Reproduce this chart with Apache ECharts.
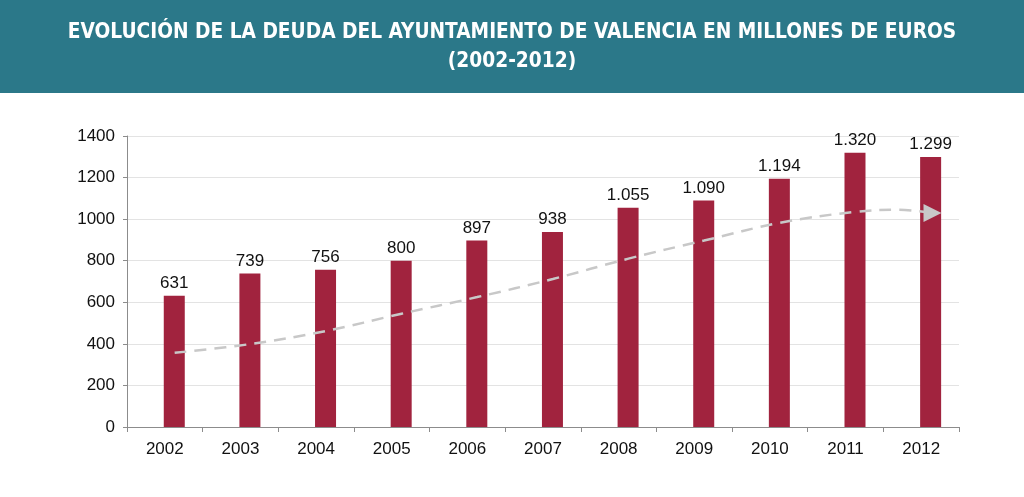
<!DOCTYPE html>
<html>
<head>
<meta charset="utf-8">
<script src="https://cdn.jsdelivr.net/npm/echarts@6/dist/echarts.min.js"></script>
<style>
html,body{margin:0;padding:0;background:#fff;}
#band{position:absolute;left:0;top:0;width:1024px;height:93px;background:#2b7889;}
#chart{position:absolute;left:0;top:0;width:1024px;height:497px;}
</style>
</head>
<body>
<div id="band"></div>
<div id="chart"></div>
<script>
var titleLine1 = 'EVOLUCIÓN DE LA DEUDA DEL AYUNTAMIENTO DE VALENCIA EN MILLONES DE EUROS';
var titleLine2 = '(2002-2012)';
var years = ['2002','2003','2004','2005','2006','2007','2008','2009','2010','2011','2012'];
var deuda = [631, 739, 756, 800, 897, 938, 1055, 1090, 1194, 1320, 1299];
var yTicks = [0, 200, 400, 600, 800, 1000, 1200, 1400];
// dashed trend curve: [position along category axis, value]
var trendX = [0.13, 1.13, 2.13, 3.13, 4.13, 5.13, 6.13, 7.13, 8.13, 9.13, 9.7, 10.15];
var trendY = [357, 399, 462, 545, 625, 712, 810, 897, 982, 1035, 1045, 1030];

function fmt(v){
  var s = String(v);
  return s.length > 3 ? s.slice(0, s.length-3) + '.' + s.slice(s.length-3) : s;
}

var trendData = trendX.map(function(x, i){
  var d = {value: [x, trendY[i]]};
  if (i === trendX.length - 1) {
    d.symbol = 'triangle'; d.symbolSize = [18, 18]; d.symbolRotate = -90;
    d.itemStyle = {color: '#c8c8c8'};
  }
  return d;
});

var chart = echarts.init(document.getElementById('chart'), null, {renderer: 'canvas'});
chart.setOption({
  animation: false,
  backgroundColor: 'transparent',
  title: {
    text: titleLine1 + '\n' + titleLine2,
    left: 'center', top: 13,
    textStyle: {color: '#ffffff', fontFamily: 'Liberation Sans Narrow, DejaVu Sans Condensed, sans-serif',
      fontWeight: 'bold', fontSize: 20.7, lineHeight: 29}
  },
  grid: {left: 127, right: 65, top: 136, bottom: 70},
  xAxis: [{
    type: 'category', data: years, boundaryGap: true,
    axisLine: {lineStyle: {color: '#8c8c8c', width: 1}},
    axisTick: {show: true, length: 5, lineStyle: {color: '#8c8c8c'}},
    axisLabel: {color: '#111', fontSize: 17, fontFamily: 'Liberation Sans, Arial, sans-serif', margin: 14}
  }, {
    type: 'value', min: -0.5, max: 10.5, show: false
  }],
  yAxis: {
    type: 'value', min: 0, max: 1400, interval: 200,
    axisLine: {show: true, onZero: false, lineStyle: {color: '#8c8c8c', width: 1}},
    axisTick: {show: true, length: 4, lineStyle: {color: '#8c8c8c'}},
    splitLine: {lineStyle: {color: '#e3e3e3', width: 1}},
    axisLabel: {color: '#111', fontSize: 17, fontFamily: 'Liberation Sans, Arial, sans-serif', margin: 12,
      formatter: function(v){ return yTicks.indexOf(v) >= 0 ? String(v) : ''; }}
  },
  series: [{
    type: 'bar', xAxisIndex: 0, data: years.map(function(){ return null; }),
    barWidth: 21, barGap: '-10%', silent: true
  }, {
    type: 'bar', xAxisIndex: 0, data: deuda, barWidth: 21, barGap: '-10%',
    itemStyle: {color: '#a1233e'},
    label: {show: true, position: 'top', distance: 4, color: '#111', fontSize: 17,
      fontFamily: 'Liberation Sans, Arial, sans-serif', formatter: function(p){ return fmt(p.value); }}
  }, {
    type: 'line', xAxisIndex: 1, data: trendData, smooth: 0.4,
    symbol: 'none', showSymbol: true, z: 5,
    lineStyle: {color: '#c8c8c8', width: 2.5, type: [12, 8]}
  }]
});
</script>
</body>
</html>
